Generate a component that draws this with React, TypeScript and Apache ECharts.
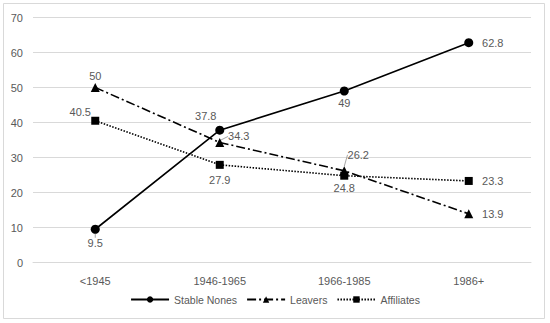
import React, { useEffect, useRef } from "react";
import * as echarts from "echarts";

const categories = ["<1945", "1946-1965", "1966-1985", "1986+"];
const stableNones = [9.5, 37.8, 49, 62.8];
const leavers = [50, 34.3, 26.2, 13.9];
const affiliates = [40.5, 27.9, 24.8, 23.3];
const yTicks = [0, 10, 20, 30, 40, 50, 60, 70];

const stableLabelLayout = [
  { dx: 0, dy: 14, line: true },
  { dx: -14, dy: -14, line: false },
  { dx: 0, dy: 12, line: false },
  { dx: 24, dy: 0, line: false },
];
const leaversLabelLayout = [
  { dx: 0, dy: -12, line: false },
  { dx: 19, dy: -6, line: true },
  { dx: 14, dy: -16, line: true },
  { dx: 24, dy: 0, line: false },
];
const affiliatesLabelLayout = [
  { dx: -15, dy: -9, line: false },
  { dx: 0, dy: 15, line: false },
  { dx: 0, dy: 12, line: false },
  { dx: 24, dy: 0, line: false },
];

const TEXT = "#595959";
const FONT = "Liberation Sans";

function makeSeries(name, data, layout, symbol, symbolSize, lineType) {
  return {
    name,
    type: "line",
    data: data.map((v, i) => ({
      value: v,
      label: { show: true },
      labelLine: { show: layout[i].line },
    })),
    symbol,
    symbolSize,
    showAllSymbol: true,
    itemStyle: { color: "#000" },
    lineStyle: { color: "#000", width: 1.6, type: lineType },
    label: {
      show: true,
      position: "inside",
      color: TEXT,
      fontSize: 11,
      fontFamily: FONT,
    },
    labelLine: { show: false, lineStyle: { color: "#a6a6a6", width: 1 } },
    labelLayout: (p) => {
      const l = layout[p.dataIndex];
      return { dx: l.dx, dy: l.dy };
    },
  };
}

export default function App() {
  const ref = useRef(null);
  useEffect(() => {
    document.body.style.margin = "0";
    const chart = echarts.init(ref.current, null, { renderer: "svg" });
    chart.setOption({
      animation: false,
      backgroundColor: "#fff",
      textStyle: { fontFamily: FONT },
      graphic: [
        {
          type: "rect",
          shape: { x: 3.5, y: 3.5, width: 541, height: 315 },
          style: { fill: "none", stroke: "#d9d9d9", lineWidth: 1 },
          silent: true,
        },
      ],
      grid: { left: 33, right: 19, top: 17.5, bottom: 60.5 },
      legend: {
        bottom: 13,
        left: "center",
        itemWidth: 38,
        itemHeight: 8,
        itemGap: 9,
        textStyle: { color: TEXT, fontSize: 10.5, fontFamily: FONT },
        data: ["Stable Nones", "Leavers", "Affiliates"],
      },
      xAxis: {
        type: "category",
        data: categories,
        boundaryGap: true,
        axisLine: { show: true, lineStyle: { color: "#d9d9d9" } },
        axisTick: { show: false },
        axisLabel: { color: TEXT, fontSize: 11, fontFamily: FONT, margin: 13 },
      },
      yAxis: {
        type: "value",
        min: yTicks[0],
        max: yTicks[yTicks.length - 1],
        interval: 10,
        axisLine: { show: false },
        axisTick: { show: false },
        splitLine: { lineStyle: { color: "#d9d9d9" } },
        axisLabel: { color: TEXT, fontSize: 11, fontFamily: FONT, margin: 10 },
      },
      series: [
        makeSeries("Stable Nones", stableNones, stableLabelLayout, "circle", 9, "solid"),
        makeSeries("Leavers", leavers, leaversLabelLayout, "triangle", 9, [9, 3, 2, 3]),
        makeSeries("Affiliates", affiliates, affiliatesLabelLayout, "rect", 8, [1.5, 1.5]),
      ],
    });
    return () => chart.dispose();
  }, []);
  return <div ref={ref} style={{ width: 550, height: 323 }} />;
}
